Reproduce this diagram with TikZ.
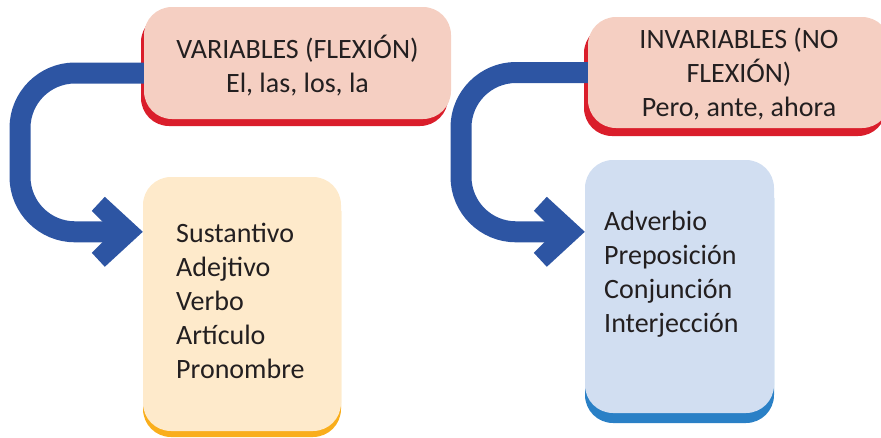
\documentclass[tikz,border=0pt]{standalone}
\usepackage{fontspec}
\setmainfont{Carlito}
\usetikzlibrary{shadows}
\definecolor{pinkfill}{HTML}{F5CFC2}
\definecolor{redshade}{HTML}{DA1E2B}
\definecolor{yellowfill}{HTML}{FEEACB}
\definecolor{orangeshade}{HTML}{F9AE1C}
\definecolor{bluefill}{HTML}{D1DEF1}
\definecolor{blueshade}{HTML}{2A80C6}
\definecolor{arrowblue}{HTML}{2D55A3}
\definecolor{textdark}{HTML}{231F20}
\begin{document}
\begin{tikzpicture}[x=1pt,y=-1pt,
  boxbase/.style={rectangle, rounded corners=28pt, inner sep=0pt, draw=none},
  pinkbox/.style={boxbase, fill=pinkfill},
  yellowbox/.style={boxbase, fill=yellowfill},
  bluebox/.style={boxbase, fill=bluefill},
  txt/.style={font=\fontsize{28}{34}\selectfont, text=textdark, inner sep=0pt},
  flow/.style={draw=arrowblue, line width=21pt, rounded corners=55pt},
  head/.style={fill=arrowblue, draw=none}]
\useasboundingbox (0,0) rectangle (881,437);
% boxes
\node[pinkbox, minimum width=307pt, minimum height=112pt,
  general shadow={fill=redshade, shadow xshift=-3pt, shadow yshift=-7pt}] (b1) at (297.5,63) {};
\node[yellowbox, minimum width=198pt, minimum height=254pt,
  general shadow={fill=orangeshade, shadow xshift=0pt, shadow yshift=-6pt}] (b2) at (242,304) {};
\node[pinkbox, minimum width=302pt, minimum height=111pt,
  general shadow={fill=redshade, shadow xshift=-4pt, shadow yshift=-8pt}] (b3) at (739,72.5) {};
\node[bluebox, minimum width=189pt, minimum height=253pt,
  general shadow={fill=blueshade, shadow xshift=0pt, shadow yshift=-10pt}] (b4) at (679.5,286.5) {};
% arrow tips
\coordinate (tip1) at ([yshift=-55pt]b2.north west);
\coordinate (tip2) at ([yshift=-72pt]b4.north west);
% connectors
\draw[flow] ([yshift=-10pt]b1.west) -| (20,0 |- tip1) -- ([xshift=-30pt]tip1);
\fill[head] (tip1) -- ++(-38,-35) -- ++(-13,14) -- ++(21,21) -- ++(-21,21) -- ++(13,14) -- cycle;
\draw[flow] (b3.west) -| (461,0 |- tip2) -- ([xshift=-30pt]tip2);
\fill[head] (tip2) -- ++(-38,-35) -- ++(-13,14) -- ++(21,21) -- ++(-21,21) -- ++(13,14) -- cycle;
% texts
\node[txt, align=center] (t1) at (297.5,65.5) {VARIABLES (FLEXIÓN)\\El, las, los, la};
\node[txt, align=center] (t3) at (739,74.5) {INVARIABLES (NO\\FLEXIÓN)\\Pero, ante, ahora};
\node[txt, align=left, anchor=west] (t2) at (176,301) {Sustantivo\\Adejtivo\\Verbo\\Artículo\\Pronombre};
\node[txt, align=left, anchor=west] (t4) at (604,274.5) {Adverbio\\Preposición\\Conjunción\\Interjección};
\end{tikzpicture}
\end{document}
